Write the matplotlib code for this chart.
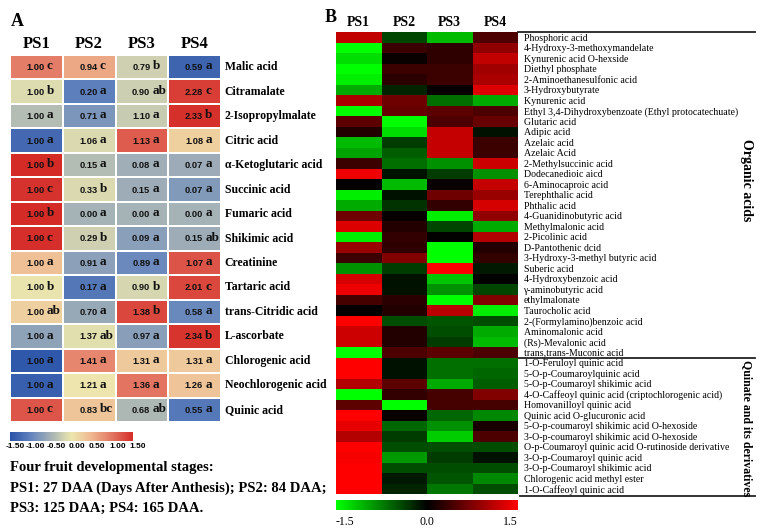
import numpy as np
import matplotlib
matplotlib.use('Agg')
import matplotlib.pyplot as plt
from matplotlib.colors import LinearSegmentedColormap
from matplotlib.lines import Line2D
from matplotlib.transforms import ScaledTranslation

# ---------------- data ----------------
stages = ['PS1', 'PS2', 'PS3', 'PS4']

metabolites_a = ['Malic acid', 'Citramalate', '2-Isopropylmalate', 'Citric acid',
                 'α-Ketoglutaric acid', 'Succinic acid', 'Fumaric acid', 'Shikimic acid',
                 'Creatinine', 'Tartaric acid', 'trans-Citridic acid', 'L-ascorbate',
                 'Chlorogenic acid', 'Neochlorogenic acid', 'Quinic acid']
fold_values_a = [
    [1.00, 0.94, 0.79, 0.59],
    [1.00, 0.20, 0.90, 2.28],
    [1.00, 0.71, 1.10, 2.33],
    [1.00, 1.06, 1.13, 1.08],
    [1.00, 0.15, 0.08, 0.07],
    [1.00, 0.33, 0.15, 0.07],
    [1.00, 0.00, 0.00, 0.00],
    [1.00, 0.29, 0.09, 0.15],
    [1.00, 0.91, 0.89, 1.07],
    [1.00, 0.17, 0.90, 2.01],
    [1.00, 0.70, 1.38, 0.58],
    [1.00, 1.37, 0.97, 2.34],
    [1.00, 1.41, 1.31, 1.31],
    [1.00, 1.21, 1.36, 1.26],
    [1.00, 0.83, 0.68, 0.55],
]
letters_a = [
    ['c', 'c', 'b', 'a'],
    ['b', 'a', 'ab', 'c'],
    ['a', 'a', 'a', 'b'],
    ['a', 'a', 'a', 'a'],
    ['b', 'a', 'a', 'a'],
    ['c', 'b', 'a', 'a'],
    ['b', 'a', 'a', 'a'],
    ['c', 'b', 'a', 'ab'],
    ['a', 'a', 'a', 'a'],
    ['b', 'a', 'b', 'c'],
    ['ab', 'a', 'b', 'a'],
    ['a', 'ab', 'a', 'b'],
    ['a', 'a', 'a', 'a'],
    ['a', 'a', 'a', 'a'],
    ['c', 'bc', 'ab', 'a'],
]
cbar_ticks_a = [-1.5, -1.0, -0.5, 0.0, 0.5, 1.0, 1.5]

metabolites_b = [
    'Phosphoric acid', '4-Hydroxy-3-methoxymandelate', 'Kynurenic acid O-hexside',
    'Diethyl phosphate', '2-Aminoethanesulfonic acid', '3-Hydroxybutyrate', 'Kynurenic acid',
    'Ethyl 3,4-Dihydroxybenzoate (Ethyl protocatechuate)', 'Glutaric acid', 'Adipic acid',
    'Azelaic acid', 'Azelaic Acid', '2-Methylsuccinic acid', 'Dodecanedioic aicd',
    '6-Aminocaproic acid', 'Terephthalic acid', 'Phthalic acid', '4-Guanidinobutyric acid',
    'Methylmalonic acid', '2-Picolinic acid', 'D-Pantothenic dcid',
    '3-Hydroxy-3-methyl butyric acid', 'Suberic acid', '4-Hydroxybenzoic acid',
    'γ-aminobutyric acid', 'ethylmalonate', 'Taurocholic acid', '2-(Formylamino)benzoic acid',
    'Aminomalonic acid', '(Rs)-Mevalonic acid', 'trans,trans-Muconic acid',
    '1-O-Feruloyl quinic acid', '5-O-p-Coumaroylquinic acid', '5-O-p-Coumaroyl shikimic acid',
    '4-O-Caffeoyl quinic acid (criptochlorogenic acid)', 'Homovanilloyl quinic acid',
    'Quinic acid O-glucuronic acid', '5-O-p-coumaroyl shikimic acid O-hexoside',
    '3-O-p-coumaroyl shikimic acid O-hexoside', 'O-p-Coumaroyl quinic acid O-rutinoside derivative',
    '3-O-p-Coumaroyl quinic acid', '3-O-p-Coumaroyl shikimic acid',
    'Chlorogenic acid methyl ester', '1-O-Caffeoyl quinic acid']
zscores_b = [
    [1.13, -0.40, -1.10, 0.45],
    [-1.50, 0.35, 0.28, 0.85],
    [-1.30, 0.05, 0.28, 1.13],
    [-1.50, 0.35, 0.35, 0.94],
    [-1.40, 0.25, 0.35, 1.00],
    [-1.00, -0.20, 0.04, 1.30],
    [1.00, 0.65, -0.65, -1.00],
    [-1.50, 0.60, 0.55, 0.45],
    [0.55, -1.50, 0.45, 0.60],
    [0.20, -1.30, 1.15, -0.10],
    [-1.10, -0.35, 1.15, 0.35],
    [-0.95, -0.55, 1.15, 0.35],
    [0.35, -0.65, -0.85, 1.20],
    [1.40, -0.10, -0.35, -0.85],
    [0.02, -1.10, 0.05, 1.15],
    [-1.40, -0.10, 0.65, 0.90],
    [-1.00, -0.30, 0.30, 1.25],
    [0.65, 0.04, -1.40, 0.85],
    [1.30, 0.20, -0.40, -1.00],
    [-1.40, 0.30, 0.02, 1.05],
    [0.90, 0.28, -1.50, 0.20],
    [0.35, 0.75, -1.50, 0.30],
    [-0.85, -0.35, 1.50, -0.15],
    [1.25, -0.10, -1.15, 0.02],
    [1.40, -0.10, -0.85, -0.40],
    [0.40, 0.25, -1.50, 0.75],
    [0.02, 0.20, 1.10, -1.40],
    [1.50, -0.45, -0.50, -0.45],
    [1.20, 0.20, -0.45, -1.00],
    [1.20, 0.20, -0.35, -1.10],
    [-1.50, 0.45, 0.55, 0.45],
    [1.50, -0.10, -0.65, -0.65],
    [1.50, -0.10, -0.65, -0.60],
    [1.05, 0.55, -1.00, -0.55],
    [-1.50, 0.30, 0.40, 0.75],
    [0.55, -1.50, 0.40, 0.40],
    [1.50, 0.05, -0.60, -0.80],
    [1.35, -0.60, -0.85, 0.15],
    [1.05, -0.35, -1.20, 0.45],
    [1.50, -0.45, -0.45, -0.45],
    [1.45, -0.90, -0.35, -0.10],
    [1.50, -0.45, -0.45, -0.45],
    [1.50, -0.15, -0.50, -0.80],
    [1.50, -0.20, -0.70, -0.45],
]
n_organic = 31
groups_b = ['Organic acids', 'Quinate and its derivatives']
cbar_ticks_b = [-1.5, 0.0, 1.5]

# ---------------- layout helpers ----------------
W, H = 767, 531
fig = plt.figure(figsize=(W / 100, H / 100), dpi=100)
fig.patch.set_facecolor('white')


def box(x0, y0, x1, y1):
    return [x0 / W, 1 - y1 / H, (x1 - x0) / W, (y1 - y0) / H]


def fx(x):
    return x / W


def fy(y):
    return 1 - y / H


SERIF = 'Liberation Serif'
SANS = 'Liberation Sans'

# ---------------- Panel A ----------------
vals_a = np.array(fold_values_a)
z_a = (vals_a - vals_a.mean(axis=1, keepdims=True)) / vals_a.std(axis=1, ddof=1, keepdims=True)

cmap_a = LinearSegmentedColormap.from_list('bgyr', [
    (0.0, '#2A52A8'), (1 / 6, '#6283BD'), (2 / 6, '#A5B2B6'), (3 / 6, '#EDE7AE'),
    (4 / 6, '#EFB58E'), (5 / 6, '#E27562'), (1.0, '#D52B27')])

axA = fig.add_axes(box(10, 55, 221, 422))
meshA = axA.pcolormesh(z_a, cmap=cmap_a, vmin=-1.5, vmax=1.5, edgecolors='white', linewidth=1.2)
axA.set_xlim(0, 4)
axA.set_ylim(len(metabolites_a), 0)
axA.axis('off')

for i, row in enumerate(fold_values_a):
    for j, v in enumerate(row):
        axA.text(j + 0.5 + 0.16, i + 0.52, f'{v:.2f}', ha='right', va='center',
                 fontsize=6.7, fontweight='bold', family=SANS, color='#111111')
        axA.text(j + 0.5 + 0.20, i + 0.47, letters_a[i][j], ha='left', va='center',
                 fontsize=9.5, fontweight='bold', family=SERIF, color='#111111')
    axA.text(4.07, i + 0.5, metabolites_a[i], ha='left', va='center',
             fontsize=8.5, fontweight='bold', family=SERIF)

for j, s in enumerate(stages):
    axA.text(j + 0.5, -0.45, s, ha='center', va='center', fontsize=12,
             fontweight='bold', family=SERIF)

fig.text(fx(11), fy(22), 'A', ha='left', va='center', fontsize=13,
         fontweight='bold', family=SERIF)

caxA = fig.add_axes(box(10, 432, 133, 441))
cbA = fig.colorbar(meshA, cax=caxA, orientation='horizontal', ticks=cbar_ticks_a)
cbA.outline.set_visible(False)
caxA.tick_params(length=0, pad=1.5)
caxA.set_xticklabels([f'{t:.2f}' for t in cbar_ticks_a])
off = ScaledTranslation(5 / 100, 0, fig.dpi_scale_trans)
for lab in caxA.get_xticklabels():
    lab.set_fontsize(6)
    lab.set_fontweight('bold')
    lab.set_family(SANS)
    lab.set_transform(lab.get_transform() + off)

text_lines = ['Four fruit developmental stages:',
              'PS1: 27 DAA (Days After Anthesis); PS2: 84 DAA;',
              'PS3: 125 DAA; PS4: 165 DAA.']
for k, line in enumerate(text_lines):
    fig.text(fx(10), fy(468 + 20 * k), line, ha='left', va='center', fontsize=10.5,
             fontweight='bold', family=SERIF)

# ---------------- Panel B ----------------
cmap_b = LinearSegmentedColormap.from_list('gkr', ['#00FF00', '#000000', '#FF0000'])
z_b = np.array(zscores_b)
axB = fig.add_axes(box(336, 32, 518, 494))
meshB = axB.pcolormesh(z_b, cmap=cmap_b, vmin=-1.5, vmax=1.5)
axB.set_xlim(0, 4)
axB.set_ylim(len(metabolites_b), 0)
axB.yaxis.tick_right()
axB.set_yticks(np.arange(len(metabolites_b)) + 0.5)
axB.set_yticklabels(metabolites_b, fontsize=7.15, family=SERIF)
axB.set_xticks([])
axB.tick_params(axis='y', length=0, pad=4)
for sp in axB.spines.values():
    sp.set_visible(False)

for j, s in enumerate(stages):
    axB.text(j + 0.5, -0.95, s, ha='center', va='center', fontsize=10,
             fontweight='bold', family=SERIF)
fig.text(fx(325), fy(18), 'B', ha='left', va='center', fontsize=13,
         fontweight='bold', family=SERIF)

for (x0, x1, y) in [(518, 755, 32), (519, 755, 358), (520, 755, 496)]:
    fig.add_artist(Line2D([fx(x0), fx(x1)], [fy(y), fy(y)], color='#222222', lw=1.3))

fig.text(fx(747), fy(180), groups_b[0], rotation=270, ha='center', va='center',
         fontsize=10, fontweight='bold', family=SERIF)
fig.text(fx(747), fy(428), groups_b[1], rotation=270, ha='center', va='center',
         fontsize=8.6, fontweight='bold', family=SERIF)

caxB = fig.add_axes(box(336, 500, 518, 510))
cbB = fig.colorbar(meshB, cax=caxB, orientation='horizontal', ticks=cbar_ticks_b)
cbB.outline.set_visible(False)
caxB.tick_params(length=0, pad=4)
caxB.set_xticklabels([f'{t:.1f}' for t in cbar_ticks_b])
labs = caxB.get_xticklabels()
for lab in labs:
    lab.set_fontsize(8.5)
    lab.set_family(SERIF)
labs[0].set_ha('left')
labs[-1].set_ha('right')

fig.savefig('out.png', dpi=100, facecolor='white')
